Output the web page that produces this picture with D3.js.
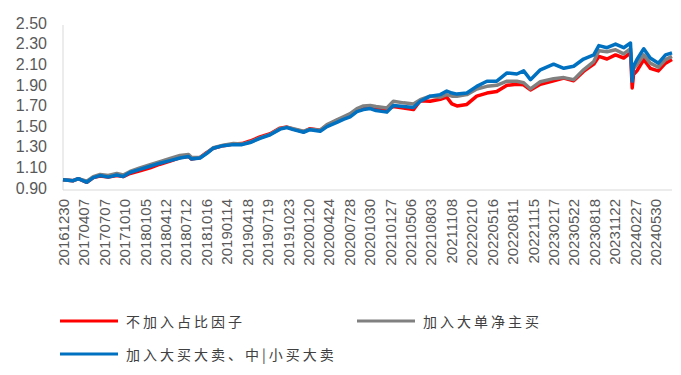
<!DOCTYPE html>
<html>
<head>
<meta charset="utf-8">
<script src="https://cdn.jsdelivr.net/npm/d3@7"></script>
<style>
  body { margin: 0; background: #fff; }
  svg { display: block; }
</style>
</head>
<body>
<svg id="chart"></svg>
<script>
// trading-day index of each sample
const dayIndex = [0, 30, 45, 70, 89, 109, 133, 158, 177, 197, 226, 256, 285, 315, 344, 369, 378, 403, 423, 442,
    471, 501, 526, 550, 579, 609, 638, 658, 677, 707, 726, 756, 776, 805, 824, 844, 864, 883, 903, 920,
    952, 971, 1001, 1030, 1050, 1079, 1109, 1128, 1143, 1158, 1187, 1216, 1246, 1275, 1305, 1334, 1354, 1374, 1403, 1442,
    1472, 1501, 1530, 1560, 1575, 1599, 1624, 1648, 1668, 1673, 1677, 1687, 1707, 1726, 1750, 1771, 1790];

const seriesBlue = [1.00, 0.99, 1.01, 0.975, 1.02, 1.04, 1.025, 1.045, 1.03, 1.07, 1.10, 1.13, 1.16, 1.185, 1.21, 1.225, 1.20, 1.21, 1.255, 1.305,
    1.33, 1.34, 1.34, 1.36, 1.40, 1.435, 1.49, 1.505, 1.485, 1.46, 1.485, 1.47, 1.515, 1.555, 1.585, 1.61, 1.66, 1.68, 1.69, 1.67,
    1.655, 1.72, 1.71, 1.70, 1.76, 1.81, 1.825, 1.86, 1.84, 1.83, 1.84, 1.905, 1.955, 1.955, 2.035, 2.025, 2.055, 1.97, 2.065, 2.12,
    2.08, 2.10, 2.17, 2.21, 2.30, 2.28, 2.315, 2.28, 2.325, 1.955, 2.10, 2.165, 2.27, 2.18, 2.13, 2.21, 2.23];

const seriesGray = [1.00, 0.99, 1.01, 0.985, 1.03, 1.05, 1.04, 1.06, 1.045, 1.08, 1.115, 1.145, 1.175, 1.205, 1.235, 1.245, 1.215, 1.215, 1.26, 1.31,
    1.335, 1.35, 1.345, 1.365, 1.405, 1.44, 1.495, 1.51, 1.495, 1.47, 1.49, 1.48, 1.535, 1.58, 1.61, 1.64, 1.69, 1.715, 1.72, 1.71,
    1.695, 1.76, 1.745, 1.735, 1.775, 1.81, 1.80, 1.825, 1.81, 1.81, 1.825, 1.88, 1.905, 1.915, 1.955, 1.955, 1.94, 1.88, 1.95, 1.98,
    1.99, 1.97, 2.065, 2.145, 2.25, 2.24, 2.26, 2.22, 2.27, 2.00, 2.08, 2.115, 2.21, 2.13, 2.09, 2.165, 2.195];

const seriesRed = [1.00, 0.99, 1.01, 0.975, 1.02, 1.035, 1.025, 1.04, 1.03, 1.06, 1.085, 1.115, 1.15, 1.18, 1.215, 1.225, 1.20, 1.215, 1.265, 1.305,
    1.33, 1.345, 1.35, 1.375, 1.415, 1.445, 1.50, 1.51, 1.49, 1.465, 1.495, 1.48, 1.525, 1.575, 1.60, 1.63, 1.675, 1.70, 1.70, 1.68,
    1.68, 1.71, 1.695, 1.68, 1.765, 1.76, 1.78, 1.80, 1.735, 1.715, 1.73, 1.81, 1.84, 1.855, 1.915, 1.925, 1.92, 1.87, 1.925, 1.96,
    1.985, 1.96, 2.05, 2.12, 2.195, 2.17, 2.21, 2.18, 2.23, 1.89, 2.02, 2.055, 2.165, 2.08, 2.055, 2.13, 2.165];

const tickLabels = ["20161230", "20170407", "20170707", "20171010", "20180105", "20180412", "20180712", "20181016",
    "20190114", "20190418", "20190719", "20191023", "20200120", "20200424", "20200728", "20201030", "20210127",
    "20210506", "20210803", "20211108", "20220210", "20220516", "20220811", "20221115", "20230217", "20230522",
    "20230818", "20231122", "20240227", "20240530"];
const tickStep = 60;
const lastDay = 1790;

const yTicks = [0.9, 1.1, 1.3, 1.5, 1.7, 1.9, 2.1, 2.3, 2.5];

const legendNames = ["不加入占比因子", "加入大单净主买", "加入大买大卖、中|小买大卖"];
const colors = ["#ff0000", "#808080", "#0070c0"];

const width = 681, height = 375;
const margin = { top: 25, right: 9, bottom: 185, left: 63 };

const svg = d3.select("#chart").attr("width", width).attr("height", height);

const x = d3.scaleLinear().domain([0, lastDay]).range([margin.left, width - margin.right]);
const y = d3.scaleLinear().domain([0.9, 2.5]).range([height - margin.bottom, margin.top]);

// axes lines
svg.append("line")
    .attr("x1", margin.left).attr("x2", margin.left)
    .attr("y1", y(2.5)).attr("y2", y(0.9))
    .attr("stroke", "#d9d9d9").attr("stroke-width", 1);
svg.append("line")
    .attr("x1", margin.left).attr("x2", width - margin.right)
    .attr("y1", y(0.9)).attr("y2", y(0.9))
    .attr("stroke", "#d9d9d9").attr("stroke-width", 1);

const yAxis = svg.append("g")
    .attr("transform", `translate(${margin.left - 16},-2)`)
    .call(d3.axisLeft(y).tickValues(yTicks).tickFormat(d3.format(".2f")).tickSize(0).tickPadding(0));
yAxis.select(".domain").remove();
yAxis.selectAll("text")
    .attr("fill", "#595959")
    .style("font-family", "'Liberation Sans', Arial, sans-serif")
    .style("font-size", "16px");

const xAxis = svg.append("g")
    .attr("transform", `translate(0,${y(0.9)})`)
    .call(d3.axisBottom(x)
        .tickValues(tickLabels.map((d, i) => i * tickStep))
        .tickFormat((d, i) => tickLabels[i])
        .tickSize(0));
xAxis.select(".domain").remove();
xAxis.selectAll("text")
    .attr("fill", "#595959")
    .style("font-family", "'Liberation Sans', Arial, sans-serif")
    .style("font-size", "15px")
    .attr("text-anchor", "end")
    .attr("dy", null)
    .attr("y", 0)
    .attr("dominant-baseline", "central")
    .attr("transform", "translate(0,9) rotate(-90)");

const line = d3.line()
    .x((d, i) => x(dayIndex[i]))
    .y(d => y(d));

[seriesRed, seriesGray, seriesBlue].forEach((s, k) => {
    svg.append("path")
        .datum(s)
        .attr("fill", "none")
        .attr("stroke", colors[k])
        .attr("stroke-width", 3.5)
        .attr("stroke-linejoin", "round")
        .attr("d", line);
});

// legend
const legendPos = [[60, 321], [357, 321], [60, 354]];
const legend = svg.append("g");
legendNames.forEach((name, k) => {
    const g = legend.append("g").attr("transform", `translate(${legendPos[k][0]},${legendPos[k][1]})`);
    g.append("line")
        .attr("x1", 0).attr("x2", 58)
        .attr("stroke", colors[k]).attr("stroke-width", 3);
    g.append("text")
        .attr("x", 66)
        .attr("dominant-baseline", "central")
        .attr("fill", "#404040")
        .style("font-family", "'Noto Sans CJK SC', sans-serif")
        .style("font-size", "14px")
        .style("letter-spacing", "3px")
        .text(name);
});
</script>
</body>
</html>
